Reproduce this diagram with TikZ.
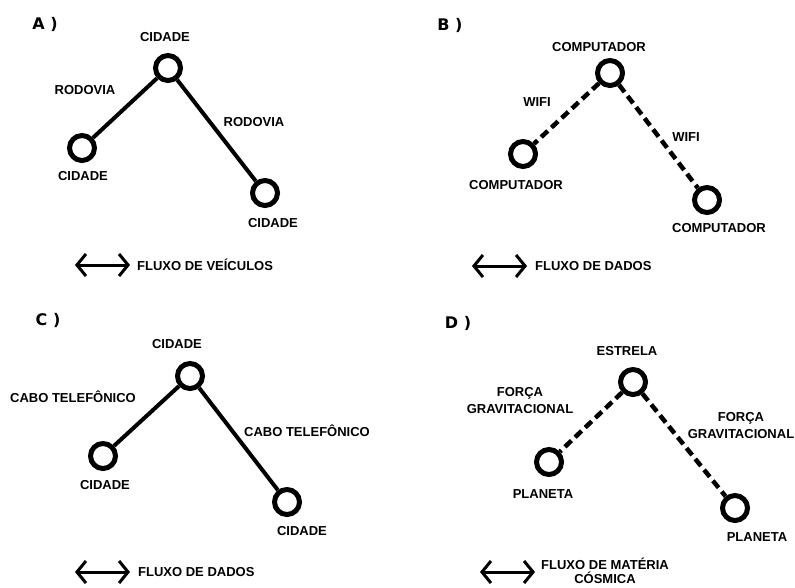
\documentclass[tikz,border=0pt]{standalone}
\usepackage{fontspec}
\setmainfont{Liberation Sans}
\newfontfamily\titlefont{DejaVu Sans}
\usetikzlibrary{arrows.meta}
\begin{document}
\begin{tikzpicture}[x=1pt,y=-1pt,
  vert/.style={circle,draw,line width=5pt,minimum size=25pt,inner sep=0pt},
  lbl/.style={font=\bfseries\fontsize{13}{14}\selectfont,inner sep=1pt,align=center},
  ttl/.style={font=\titlefont\bfseries\fontsize{16}{18}\selectfont,inner sep=0pt},
  solidlink/.style={line width=4pt},
  dashlink/.style={line width=4.5pt,dash pattern=on 9pt off 5pt},
  flow/.style={line width=3pt,{Straight Barb[length=9pt,width=22pt,line width=3pt]}-{Straight Barb[length=9pt,width=22pt,line width=3pt]}}
]
\useasboundingbox (0,0) rectangle (795,587);
\fill[white] (0,0) rectangle (795,587);

% ---------- A ----------
\node[ttl] (tA) at (45,24) {A )};
\node[vert] (a1) at (168,68) {};
\node[vert] (a2) at (82,148) {};
\node[vert] (a3) at (265,193) {};
\node[lbl] (la1) at (165,37) {CIDADE};
\node[lbl] (la2) at (83,176) {CIDADE};
\node[lbl] (la3) at (273,223) {CIDADE};
\node[lbl] (ea1) at (85,90) {RODOVIA};
\node[lbl] (ea2) at (254,122) {RODOVIA};
\draw[solidlink] (a1) -- (a2);
\draw[solidlink] (a1) -- (a3);
\coordinate (fa1) at (75,265);
\coordinate (fa2) at (130,265);
\draw[flow] (fa1) -- (fa2);
\node[lbl,anchor=west] (fla) at (136,265) {FLUXO DE VEÍCULOS};

% ---------- B ----------
\node[ttl] (tB) at (450,25) {B )};
\node[vert] (b1) at (610,73) {};
\node[vert] (b2) at (523,154) {};
\node[vert] (b3) at (707,200) {};
\node[lbl] (lb1) at (599,47) {COMPUTADOR};
\node[lbl] (lb2) at (516,185) {COMPUTADOR};
\node[lbl] (lb3) at (719,228) {COMPUTADOR};
\node[lbl] (eb1) at (537,102) {WIFI};
\node[lbl] (eb2) at (686,137) {WIFI};
\draw[dashlink] (b1) -- (b2);
\draw[dashlink] (b1) -- (b3);
\coordinate (fb1) at (472,266);
\coordinate (fb2) at (527,266);
\draw[flow] (fb1) -- (fb2);
\node[lbl,anchor=west] (flb) at (534,266) {FLUXO DE DADOS};

% ---------- C ----------
\node[ttl] (tC) at (48,320) {C )};
\node[vert] (c1) at (190,376) {};
\node[vert] (c2) at (103,456) {};
\node[vert] (c3) at (287,502) {};
\node[lbl] (lc1) at (177,344) {CIDADE};
\node[lbl] (lc2) at (105,485) {CIDADE};
\node[lbl] (lc3) at (302,531) {CIDADE};
\node[lbl] (ec1) at (73,397) {CABO TELEFÔNICO};
\node[lbl] (ec2) at (307,431) {CABO TELEFÔNICO};
\draw[solidlink] (c1) -- (c2);
\draw[solidlink] (c1) -- (c3);
\coordinate (fc1) at (75,572);
\coordinate (fc2) at (130,572);
\draw[flow] (fc1) -- (fc2);
\node[lbl,anchor=west] (flc) at (137,572) {FLUXO DE DADOS};

% ---------- D ----------
\node[ttl] (tD) at (458,323) {D )};
\node[vert] (d1) at (633,382) {};
\node[vert] (d2) at (549,462) {};
\node[vert] (d3) at (735,508) {};
\node[lbl] (ld1) at (627,351) {ESTRELA};
\node[lbl] (ld2) at (543,494) {PLANETA};
\node[lbl] (ld3) at (757,537) {PLANETA};
\node[lbl] (ed1) at (520,401) {FORÇA\\[3pt]GRAVITACIONAL};
\node[lbl] (ed2) at (741,426) {FORÇA\\[3pt]GRAVITACIONAL};
\draw[dashlink] (d1) -- (d2);
\draw[dashlink] (d1) -- (d3);
\coordinate (fd1) at (480,572);
\coordinate (fd2) at (535,572);
\draw[flow] (fd1) -- (fd2);
\node[lbl] (fld) at (605,571) {FLUXO DE MATÉRIA\\CÓSMICA};
\end{tikzpicture}
\end{document}
